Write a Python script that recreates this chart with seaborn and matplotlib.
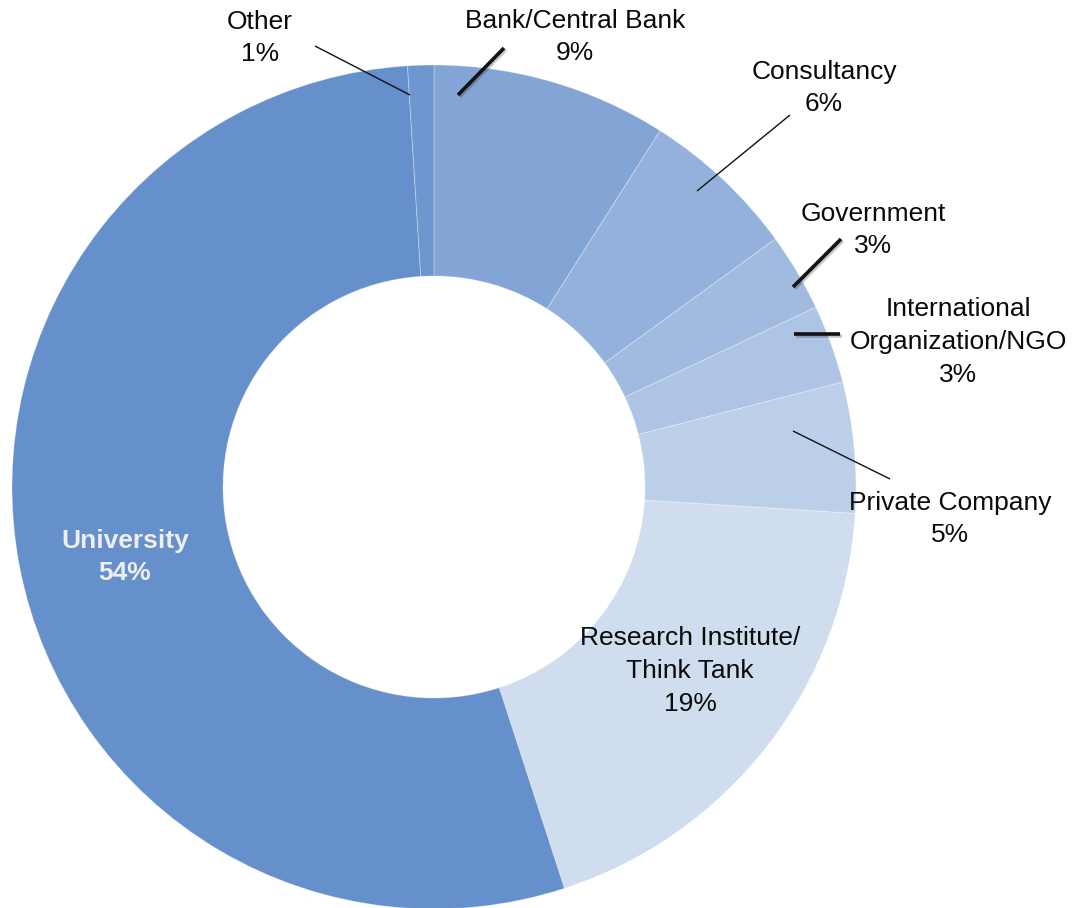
import matplotlib
matplotlib.use("Agg")
import matplotlib.pyplot as plt
import matplotlib.patheffects as pe
import seaborn as sns

# Employment sector shares (percent), clockwise from 12 o'clock
sectors = ["Bank/Central Bank", "Consultancy", "Government",
           "International\nOrganization/NGO", "Private Company",
           "Research Institute/\nThink Tank", "University", "Other"]
shares = [9, 6, 3, 3, 5, 19, 54, 1]
colors = ["#83a5d5", "#93b1dc", "#a1bbe0", "#adc4e5", "#bccfe9",
          "#cfddef", "#6590cb", "#6e97cf"]

sns.set_theme(style="white")
plt.rcParams["font.family"] = ["Liberation Sans", "DejaVu Sans"]

W, H, DPI = 1087, 908, 100
fig = plt.figure(figsize=(W / DPI, H / DPI), dpi=DPI)
ax = fig.add_axes([0, 0, 1, 1])

# pixel -> data mapping: centre at (434, 487), outer radius 422 px
cx, cy, R = 434.0, 487.0, 422.0


def px(x, y):
    return (x - cx) / R, (cy - y) / R


wedges, _ = ax.pie(shares, colors=colors, startangle=90, counterclock=False,
                   radius=1.0,
                   wedgeprops=dict(width=0.5, edgecolor=(1, 1, 1, 0.3),
                                   linewidth=0.7))

ax.set_aspect("auto")
ax.set_xlim(px(0, 0)[0], px(W, 0)[0])
ax.set_ylim(px(0, H)[1], px(0, 0)[1])
ax.axis("off")

fs = 19
ls = 1.45
label_pos = {
    "Other": (260, 38),
    "Bank/Central Bank": (575, 37),
    "Consultancy": (824, 88),
    "Government": (873, 230),
    "International\nOrganization/NGO": (958, 342),
    "Private Company": (950, 519),
    "Research Institute/\nThink Tank": (690, 671),
}
for name, val in zip(sectors, shares):
    text = f"{name}\n{val}%"
    if name == "University":
        x, y = px(125, 557)
        ax.text(x, y, text, ha="center", va="center", fontsize=fs,
                fontweight="bold", color="#eeeeee", linespacing=ls)
    else:
        x, y = px(*label_pos[name])
        ax.text(x, y, text, ha="center", va="center", fontsize=fs,
                color="#0a0a0a", linespacing=ls)

# leader lines: (start px, end px, width)
leaders = [
    ((315, 46), (410, 95), 1.0),
    ((458, 95), (504, 48), 2.6),
    ((697, 191), (790, 115), 1.0),
    ((793, 287), (841, 239), 2.6),
    ((794, 334), (840, 334), 2.6),
    ((793, 431), (890, 479), 1.0),
]
for (x0, y0), (x1, y1), lw in leaders:
    a, b = px(x0, y0)
    c, d = px(x1, y1)
    effects = [pe.SimpleLineShadow(offset=(1.2, -1.2), alpha=0.25),
               pe.Normal()] if lw > 2 else None
    ax.plot([a, c], [b, d], color="#111111", lw=lw,
            solid_capstyle="butt", path_effects=effects)

fig.savefig("out.png", dpi=DPI, facecolor="white")
